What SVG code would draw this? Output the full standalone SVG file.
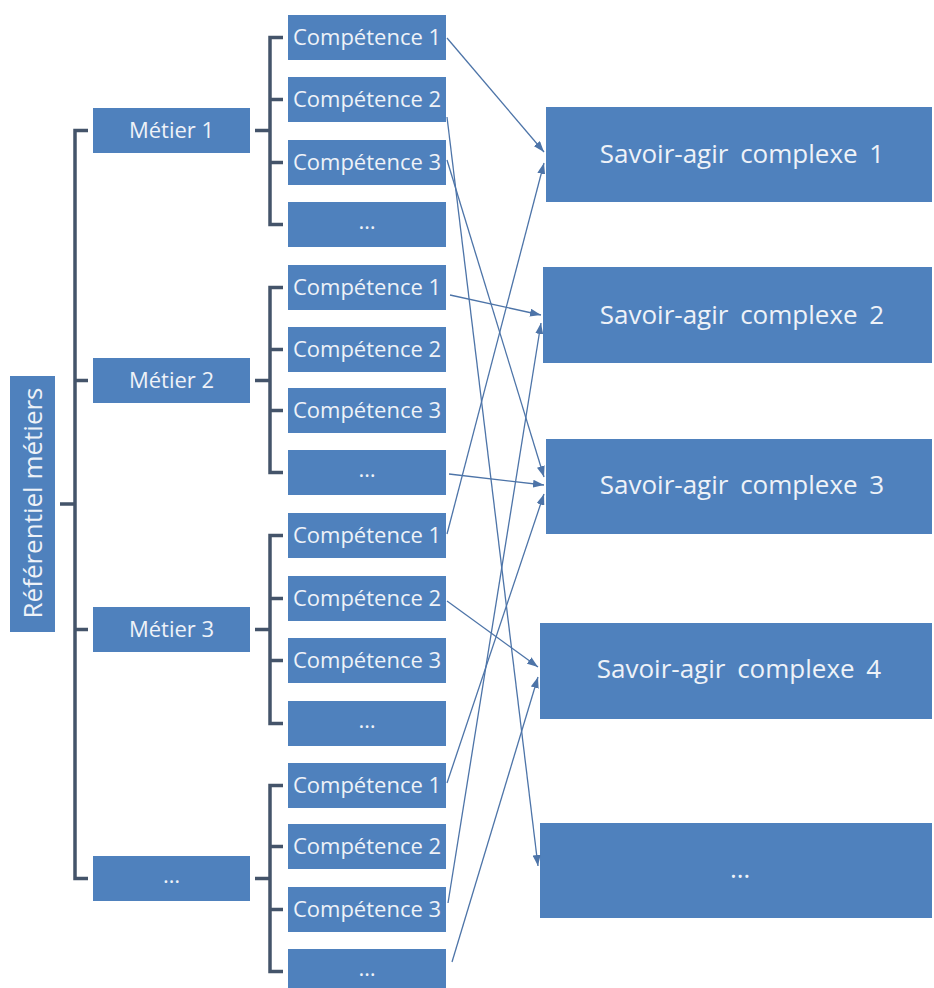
<svg xmlns="http://www.w3.org/2000/svg" width="934" height="988" viewBox="0 0 934 988">
<style>
.box{fill:#4F81BD}
.t{fill:#EEF2F8;font-family:"Open Sans","Liberation Sans",sans-serif;font-size:22px;text-anchor:middle}
.big{font-size:26px;word-spacing:5px}
.root{font-size:26px}
.br{fill:none;stroke:#44546A;stroke-width:3.5}
.cn{fill:none;stroke:#4D74A8;stroke-width:1.3;marker-end:url(#ah)}
</style>
<defs>
<marker id="ah" markerUnits="userSpaceOnUse" markerWidth="11" markerHeight="8" refX="11" refY="4" orient="auto">
<path d="M0,0 L11,4 L0,8 z" fill="#4D74A8"/>
</marker>
</defs>
<rect width="934" height="988" fill="#FFFFFF"/>

<g id="brackets">
<path class="br" d="M60,504 H75 M88,130.5 H75 V878.5 H88 M75,380.5 H88 M75,629.5 H88"/>
<path class="br" d="M255,130.5 H270 M283,37.5 H270 V224.5 H283 M270,99.5 H283 M270,162.5 H283"/>
<path class="br" d="M255,380.5 H270 M283,287.5 H270 V472.5 H283 M270,349.5 H283 M270,410.5 H283"/>
<path class="br" d="M255,629.5 H270 M283,535.5 H270 V723.5 H283 M270,598.5 H283 M270,660.5 H283"/>
<path class="br" d="M255,878.5 H270 M283,785.5 H270 V971.5 H283 M270,846.5 H283 M270,909.5 H283"/>
</g>

<g id="root"><rect class="box" x="10" y="376" width="45" height="256"/><text class="t root" transform="translate(42,503) rotate(-90)">Référentiel métiers</text></g>

<g id="metier1"><rect class="box" x="93" y="108" width="157" height="45"/><text class="t" x="171.5" y="138">Métier 1</text></g>
<g id="metier2"><rect class="box" x="93" y="358" width="157" height="45"/><text class="t" x="171.5" y="388">Métier 2</text></g>
<g id="metier3"><rect class="box" x="93" y="607" width="157" height="45"/><text class="t" x="171.5" y="637">Métier 3</text></g>
<g id="metier4"><rect class="box" x="93" y="856" width="157" height="45"/><text class="t" x="171.5" y="883">…</text></g>

<g id="g1c1"><rect class="box" x="288" y="15" width="158" height="45"/><text class="t" x="367" y="45">Compétence 1</text></g>
<g id="g1c2"><rect class="box" x="288" y="77" width="158" height="45"/><text class="t" x="367" y="107">Compétence 2</text></g>
<g id="g1c3"><rect class="box" x="288" y="140" width="158" height="45"/><text class="t" x="367" y="170">Compétence 3</text></g>
<g id="g1c4"><rect class="box" x="288" y="202" width="158" height="45"/><text class="t" x="367" y="229">…</text></g>

<g id="g2c1"><rect class="box" x="288" y="265" width="158" height="45"/><text class="t" x="367" y="295">Compétence 1</text></g>
<g id="g2c2"><rect class="box" x="288" y="327" width="158" height="45"/><text class="t" x="367" y="357">Compétence 2</text></g>
<g id="g2c3"><rect class="box" x="288" y="388" width="158" height="45"/><text class="t" x="367" y="418">Compétence 3</text></g>
<g id="g2c4"><rect class="box" x="288" y="450" width="158" height="45"/><text class="t" x="367" y="477">…</text></g>

<g id="g3c1"><rect class="box" x="288" y="513" width="158" height="45"/><text class="t" x="367" y="543">Compétence 1</text></g>
<g id="g3c2"><rect class="box" x="288" y="576" width="158" height="45"/><text class="t" x="367" y="606">Compétence 2</text></g>
<g id="g3c3"><rect class="box" x="288" y="638" width="158" height="45"/><text class="t" x="367" y="668">Compétence 3</text></g>
<g id="g3c4"><rect class="box" x="288" y="701" width="158" height="45"/><text class="t" x="367" y="728">…</text></g>

<g id="g4c1"><rect class="box" x="288" y="763" width="158" height="45"/><text class="t" x="367" y="793">Compétence 1</text></g>
<g id="g4c2"><rect class="box" x="288" y="824" width="158" height="45"/><text class="t" x="367" y="854">Compétence 2</text></g>
<g id="g4c3"><rect class="box" x="288" y="887" width="158" height="45"/><text class="t" x="367" y="917">Compétence 3</text></g>
<g id="g4c4"><rect class="box" x="288" y="949" width="158" height="45"/><text class="t" x="367" y="976">…</text></g>

<g id="sac1"><rect class="box" x="546" y="107" width="386" height="95"/><text class="t big" x="742" y="163">Savoir-agir complexe 1</text></g>
<g id="sac2"><rect class="box" x="543" y="267" width="389" height="96"/><text class="t big" x="742" y="324">Savoir-agir complexe 2</text></g>
<g id="sac3"><rect class="box" x="546" y="439" width="386" height="95"/><text class="t big" x="742" y="494">Savoir-agir complexe 3</text></g>
<g id="sac4"><rect class="box" x="540" y="623" width="392" height="96"/><text class="t big" x="739" y="678">Savoir-agir complexe 4</text></g>
<g id="sac5"><rect class="box" x="540" y="823" width="392" height="95"/><text class="t big" x="740" y="878">…</text></g>

<g id="connectors">
<line class="cn" x1="447" y1="38" x2="544" y2="152"/>
<line class="cn" x1="447" y1="534" x2="544" y2="163"/>
<line class="cn" x1="450" y1="295" x2="541" y2="315"/>
<line class="cn" x1="448" y1="903" x2="541" y2="323"/>
<line class="cn" x1="447" y1="160" x2="544" y2="477"/>
<line class="cn" x1="449" y1="474" x2="544" y2="485"/>
<line class="cn" x1="447" y1="783" x2="544" y2="494"/>
<line class="cn" x1="447" y1="601" x2="538" y2="667"/>
<line class="cn" x1="452" y1="962" x2="538" y2="677"/>
<line class="cn" x1="447" y1="117" x2="538" y2="866"/>
</g>
</svg>
